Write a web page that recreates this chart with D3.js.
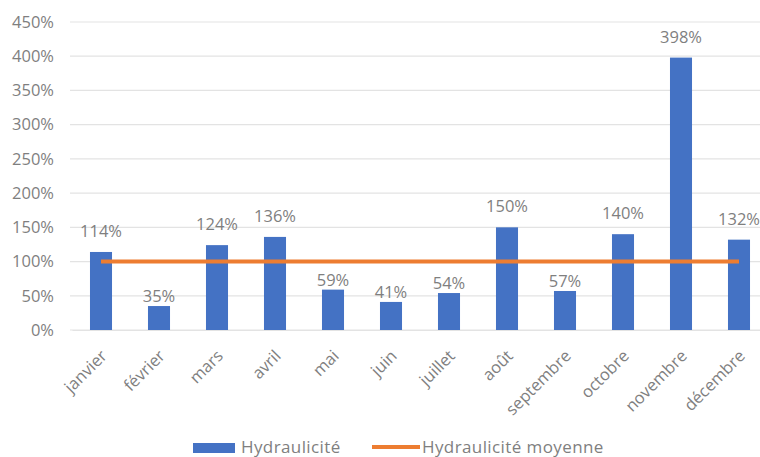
<!DOCTYPE html>
<html><head><meta charset="utf-8">
<script src="https://cdn.jsdelivr.net/npm/d3@7"></script>
<style>body{margin:0;background:#fff}svg{display:block}text{font-family:"Open Sans","Noto Sans",sans-serif}</style>
</head><body>
<svg id="c" width="760" height="457"></svg>
<script>
const months = ["janvier","février","mars","avril","mai","juin","juillet","août","septembre","octobre","novembre","décembre"];
const hydraulicite = [114,35,124,136,59,41,54,150,57,140,398,132];
const moyenne = [100,100,100,100,100,100,100,100,100,100,100,100];
const yTicks = [0,50,100,150,200,250,300,350,400,450];
const seriesNames = ["Hydraulicité","Hydraulicité moyenne"];

const svg = d3.select("#c");
const blue = "#4472C4", orange = "#ED7D31", gray = "#7F7F7F";
const x = d3.scaleBand().domain(months).range([72,768]).paddingInner(0.62).paddingOuter(0.31);
const y = d3.scaleLinear().domain([0,450]).range([330,22]);

// gridlines
svg.append("g").selectAll("line").data(yTicks).join("line")
  .attr("x1",70).attr("x2",760).attr("y1",d=>y(d)).attr("y2",d=>y(d))
  .attr("stroke","#E3E3E3").attr("stroke-width",1.2);

// y axis labels
const yAxis = d3.axisLeft(y).tickValues(yTicks).tickFormat(d=>d+"%").tickSize(0).tickPadding(0);
const ya = svg.append("g").attr("transform","translate(54,0)").call(yAxis);
ya.select(".domain").remove();
ya.selectAll("text").attr("font-size",16.5).attr("fill",gray).attr("font-family","Open Sans, sans-serif");

// bars
svg.append("g").selectAll("rect").data(hydraulicite).join("rect")
  .attr("x",(d,i)=>x(months[i])).attr("width",x.bandwidth())
  .attr("y",d=>y(d)).attr("height",d=>y(0)-y(d)).attr("fill",blue);

// line
const line = d3.line().x((d,i)=>x(months[i])+x.bandwidth()/2).y(d=>y(d));
svg.append("path").datum(moyenne).attr("d",line).attr("fill","none")
  .attr("stroke",orange).attr("stroke-width",4);

// data labels
svg.append("g").selectAll("text").data(hydraulicite).join("text")
  .attr("x",(d,i)=>x(months[i])+x.bandwidth()/2)
  .attr("y",d=>y(d)-(d>=100?15:4))
  .attr("text-anchor","middle").attr("font-size",16.5).attr("fill",gray)
  .text(d=>d+"%");

// x axis
const xAxis = d3.axisBottom(x).tickSize(0).tickPadding(0);
const xa = svg.append("g").attr("transform","translate(0,330)").call(xAxis);
xa.select(".domain").attr("stroke","#E3E3E3");
xa.selectAll("text").attr("font-size",16.5).attr("fill",gray)
  .attr("text-anchor","end").attr("dy",null).attr("y",0)
  .attr("transform","translate(7,27) rotate(-45)");

// legend
const lg = svg.append("g");
lg.append("rect").attr("x",193).attr("y",443).attr("width",42).attr("height",10).attr("fill",blue);
lg.append("text").attr("x",241).attr("y",453).attr("font-size",17).attr("letter-spacing",0.4).attr("fill",gray).text(seriesNames[0]);
lg.append("line").attr("x1",372).attr("x2",420).attr("y1",447).attr("y2",447).attr("stroke",orange).attr("stroke-width",4);
lg.append("text").attr("x",422).attr("y",453).attr("font-size",17).attr("letter-spacing",0.4).attr("fill",gray).text(seriesNames[1]);
</script>
</body></html>
